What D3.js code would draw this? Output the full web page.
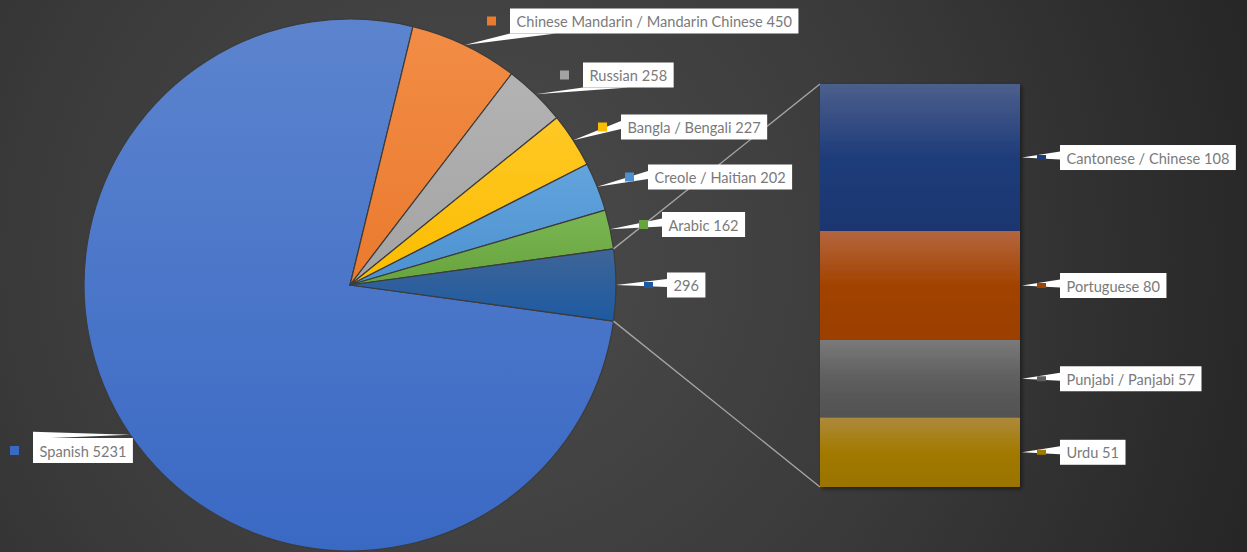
<!DOCTYPE html>
<html><head><meta charset="utf-8">
<script src="https://cdn.jsdelivr.net/npm/d3@7"></script>
<style>html,body{margin:0;padding:0;background:#3a3a3a;} svg{display:block}</style>
</head><body>
<script>
// ---- data ----
const mainCategories = ["Spanish","Chinese Mandarin / Mandarin Chinese","Russian","Bangla / Bengali","Creole / Haitian","Arabic"];
const mainValues = [5231,450,258,227,202,162];
const barCategories = ["Cantonese / Chinese","Portuguese","Punjabi / Panjabi","Urdu"];
const barValues = [108,80,57,51];

// ---- layout / style (not data) ----
const W = 1247, H = 552;
const pieCx = 350, pieCy = 285, pieR = 266;
const barX0 = 820, barX1 = 1020, barY0 = 84, barY1 = 487;
const pieColors = [["#5c84ce","#3a69c4"],["#f28c45","#ea7a2e"],["#b3b3b3","#a3a3a3"],["#ffc825","#fbbd00"],["#63a4dc","#4b90d0"],["#7bb653","#66a43d"],["#3f6597","#1d5aa2"]];
const barColors = [["#4c5f8c","#1f3c7a","#1b3670"],["#b4663f","#a24300","#9a3f00"],["#7a7a7a","#5e5e5e","#515151"],["#ad8a3c","#a27a00","#9a7300"]];
const pieLabelPos = [[33,450.5],[510,21],[583,75],[621,127],[648,177],[662,224.5],[667,285]]; // box left x, center y

const svg = d3.select("body").append("svg").attr("width",W).attr("height",H);
const defs = svg.append("defs");

// background
const bg = defs.append("radialGradient").attr("id","bg").attr("gradientUnits","userSpaceOnUse")
  .attr("cx",470).attr("cy",260).attr("r",820);
bg.append("stop").attr("offset","0%").attr("stop-color","#4c4c4c");
bg.append("stop").attr("offset","55%").attr("stop-color","#3a3a3a");
bg.append("stop").attr("offset","100%").attr("stop-color","#262626");
svg.append("rect").attr("width",W).attr("height",H).attr("fill","url(#bg)");

const shadow = defs.append("filter").attr("id","shadow").attr("x","-10%").attr("y","-10%").attr("width","130%").attr("height","130%");
shadow.append("feDropShadow").attr("dx",2).attr("dy",2).attr("stdDeviation",2).attr("flood-color","#000").attr("flood-opacity",0.45);

// pie data (Excel order: main series then the "other" slice)
const otherValue = d3.sum(barValues);
const pieValues = mainValues.concat([otherValue]);
const pieNames = mainCategories.concat([""]);
const total = d3.sum(pieValues);
const startA = Math.PI/2 - (total - otherValue/2)/total*2*Math.PI;
const pie = d3.pie().sort(null).value(d=>d).startAngle(startA).endAngle(startA+2*Math.PI);
const arcs = pie(pieValues);
const arcGen = d3.arc().innerRadius(0).outerRadius(pieR);

pieColors.forEach((c,i)=>{
  const g = defs.append("linearGradient").attr("id","pg"+i).attr("x1",0).attr("y1",0).attr("x2",0).attr("y2",1);
  g.append("stop").attr("offset","0%").attr("stop-color",c[0]);
  g.append("stop").attr("offset","100%").attr("stop-color",c[1]);
});

const pg = svg.append("g").attr("transform",`translate(${pieCx},${pieCy})`);
pg.selectAll("path").data(arcs).join("path")
  .attr("d",arcGen)
  .attr("fill",(d,i)=>`url(#pg${i})`)
  .attr("stroke","#3b3b3b").attr("stroke-width",1.2).attr("stroke-linejoin","round");

// bar of pie
const yScale = d3.scaleLinear().domain([0,otherValue]).range([barY0,barY1]);
const cum = [0]; barValues.forEach((v,i)=>cum.push(cum[i]+v));
barColors.forEach((c,i)=>{
  const g = defs.append("linearGradient").attr("id","bg"+i).attr("x1",0).attr("y1",0).attr("x2",0).attr("y2",1);
  g.append("stop").attr("offset","0%").attr("stop-color",c[0]);
  g.append("stop").attr("offset","50%").attr("stop-color",c[1]);
  g.append("stop").attr("offset","100%").attr("stop-color",c[2]);
});

// connector lines
const otherArc = arcs[arcs.length-1];
const pt = a => [pieCx + pieR*Math.sin(a), pieCy - pieR*Math.cos(a)];
const pTop = pt(otherArc.startAngle), pBot = pt(otherArc.endAngle);
svg.append("line").attr("x1",pTop[0]).attr("y1",pTop[1]).attr("x2",barX0).attr("y2",yScale(0))
  .attr("stroke","#a6a6a6").attr("stroke-width",1.3);
svg.append("line").attr("x1",pBot[0]).attr("y1",pBot[1]).attr("x2",barX0).attr("y2",yScale(otherValue))
  .attr("stroke","#a6a6a6").attr("stroke-width",1.3);

const bg2 = svg.append("g").attr("filter","url(#shadow)");
bg2.selectAll("rect").data(barValues).join("rect")
  .attr("x",barX0).attr("width",barX1-barX0)
  .attr("y",(d,i)=>yScale(cum[i])).attr("height",(d,i)=>yScale(cum[i+1])-yScale(cum[i]))
  .attr("fill",(d,i)=>`url(#bg${i})`);

// labels
const FONT = "Lato, 'Open Sans', sans-serif";
const BOXH = 25;
function label(text, x0, cy, tip, keyColor, keyH){
  const g = svg.append("g");
  const t = g.append("text").attr("font-family",FONT).attr("font-size",14.6).attr("fill","#7a7a7a")
    .attr("dominant-baseline","central").text(text);
  const tw = t.node().getComputedTextLength();
  const bw = tw + 13;
  const bx = x0;
  const y0 = cy - BOXH/2, y1 = cy + BOXH/2;
  let poly;
  if (tip[0] > bx + bw) {
    poly = [tip,[bx+bw-18,y0],[bx+bw,y0+5]];
  } else if (tip[1] > y1 + 4) {
    poly = [tip,[bx,y1],[bx+46,y1]];
  } else {
    poly = [tip,[bx,Math.min(cy-6, tip[1]-3)],[bx,Math.min(cy+2,tip[1]+4)]];
  }
  g.insert("path","text").attr("d","M"+poly.map(p=>p.join(",")).join("L")+"Z").attr("fill","#fff");
  g.insert("rect","text").attr("x",bx).attr("y",y0).attr("width",bw).attr("height",BOXH).attr("fill","#fff");
  t.attr("x",bx+6.5).attr("y",cy+0.5);
  g.append("rect").attr("x",bx-23).attr("y",cy-keyH/2).attr("width",9).attr("height",keyH).attr("fill",keyColor);
}

arcs.forEach((a,i)=>{
  const mid = (a.startAngle+a.endAngle)/2;
  const tip = pt(mid);
  const txt = (pieNames[i] ? pieNames[i]+" " : "") + pieValues[i];
  label(txt, pieLabelPos[i][0], pieLabelPos[i][1], tip, pieColors[i][1], i===pieValues.length-1?6:9);
});
barValues.forEach((v,i)=>{
  const cy = (yScale(cum[i])+yScale(cum[i+1]))/2;
  label(barCategories[i]+" "+v, barX1+40, cy, [barX1+2, cy], barColors[i][1], 5);
});
</script>
</body></html>
